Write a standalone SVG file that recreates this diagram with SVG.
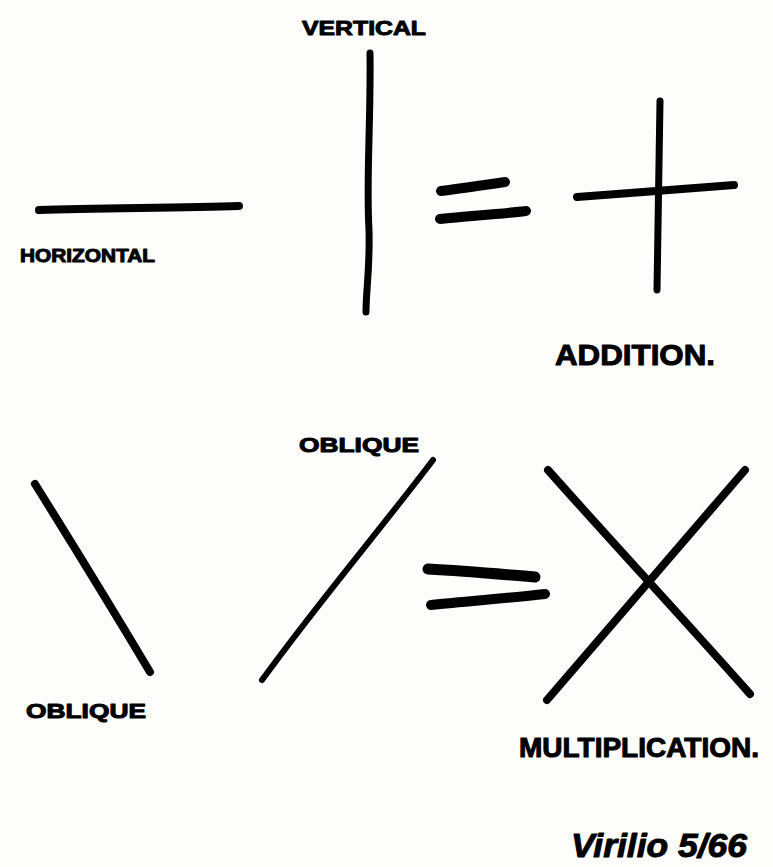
<svg xmlns="http://www.w3.org/2000/svg" width="773" height="867" viewBox="0 0 773 867">
<style>
.s{fill:none;stroke:#000;stroke-linecap:round;stroke-linejoin:round}
.t{font-family:"Liberation Sans","DejaVu Sans",sans-serif;font-weight:bold;fill:#000;stroke:#000;stroke-width:1;stroke-linejoin:round}
</style>
<rect width="773" height="867" fill="#fdfdfc"/>
<g id="horizontal">
<path class="s" stroke-width="8" d="M39,210 C100,208 180,208 239,206"/>
<text class="t" x="20" y="262" font-size="19" textLength="135" lengthAdjust="spacingAndGlyphs">HORIZONTAL</text>
</g>
<g id="vertical">
<path class="s" stroke-width="7" d="M370,53 C371,120 366,180 369,230 C370,270 366,290 366,312"/>
<text class="t" x="302" y="35" font-size="21" textLength="124" lengthAdjust="spacingAndGlyphs">VERTICAL</text>
</g>
<g id="equals1">
<path class="s" stroke-width="10" d="M441,191 C465,188 485,185 505,182"/>
<path class="s" stroke-width="10" d="M440,219 C470,216 500,214 526,211"/>
</g>
<g id="addition">
<path class="s" stroke-width="8" d="M577,197 C630,193 690,188 734,185"/>
<path class="s" stroke-width="7" d="M660,101 C659,160 658,230 657,290"/>
<text class="t" x="555" y="365" font-size="30" textLength="160" lengthAdjust="spacingAndGlyphs">ADDITION.</text>
</g>
<g id="oblique1">
<path class="s" stroke-width="8" d="M35,484 C70,540 110,605 150,672"/>
<text class="t" x="26" y="718" font-size="20" textLength="120" lengthAdjust="spacingAndGlyphs">OBLIQUE</text>
</g>
<g id="oblique2">
<path class="s" stroke-width="6" d="M433,460 C380,530 320,600 262,680"/>
<text class="t" x="299" y="452" font-size="20" textLength="120" lengthAdjust="spacingAndGlyphs">OBLIQUE</text>
</g>
<g id="equals2">
<path class="s" stroke-width="11" d="M428,569 C465,571 500,574 535,577"/>
<path class="s" stroke-width="10" d="M431,605 C470,601 510,598 545,594"/>
</g>
<g id="multiplication">
<path class="s" stroke-width="8" d="M548,470 C610,540 680,615 750,694"/>
<path class="s" stroke-width="8" d="M745,470 C680,545 615,620 547,700"/>
<text class="t" x="519" y="757" font-size="27" textLength="240" lengthAdjust="spacingAndGlyphs">MULTIPLICATION.</text>
</g>
<g id="signature">
<text class="t" x="571" y="857" font-size="34" font-style="italic" textLength="176" lengthAdjust="spacingAndGlyphs">Virilio 5/66</text>
</g>
</svg>
